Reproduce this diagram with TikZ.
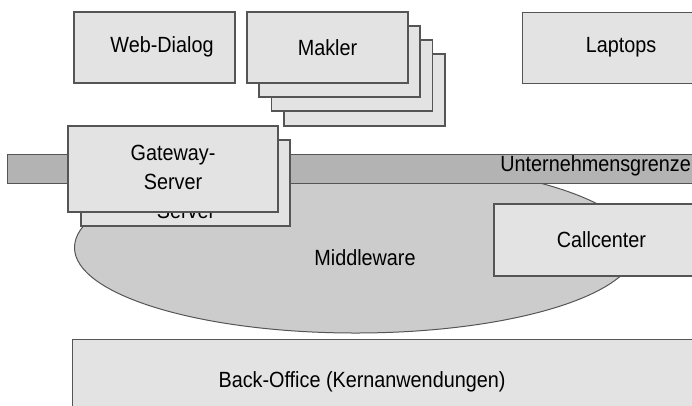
\documentclass[tikz,border=0pt]{standalone}
\usepackage{fontspec}
\setmainfont{Liberation Sans}[FakeStretch=0.9]
\usetikzlibrary{shapes.geometric}

\definecolor{boxfill}{HTML}{E3E3E3}
\definecolor{bandfill}{HTML}{B3B3B3}
\definecolor{mwfill}{HTML}{CCCCCC}
\definecolor{edge}{HTML}{555555}

\tikzset{
  every node/.style={font=\fontsize{22}{29}\selectfont, inner sep=0pt},
  panel/.style={draw=edge, line width=1.2pt, fill=boxfill, rectangle},
  plain/.style={align=center, text=black},
}

\begin{document}
\begin{tikzpicture}[x=1pt, y=-1pt]
  \useasboundingbox (0,0) rectangle (692,405);

  % middleware ellipse
  \node[ellipse, draw=edge, line width=1pt, fill=mwfill,
        minimum width=562pt, minimum height=171pt] (mw) at (355.5,247.5) {};
  \node[plain] (mwtext) at (365,258) {Middleware};

  % company boundary band
  \node[rectangle, draw=edge, line width=1.2pt, fill=bandfill,
        minimum width=700pt, minimum height=29pt, anchor=north west] (band) at (7,154) {};
  \node[plain, anchor=east] (bandtext) at (691,166) {Unternehmensgrenze};

  % gateway servers
  \node[panel, minimum width=209pt, minimum height=86pt] (gw2) at (185.5,183) {};
  \node[plain] (gw2text) at (186,196) {Gateway-\\Server};
  \node[panel, minimum width=210pt, minimum height=86pt] (gw1) at (173,169) {};
  \node[plain] (gw1text) at (173,167) {Gateway-\\Server};

  % call center
  \node[panel, minimum width=215pt, minimum height=72pt] (cc) at (601.5,240) {Callcenter};

  % broker stack
  \node[panel, minimum width=161pt, minimum height=72pt] (mk4) at (364.5,90) {};
  \node[panel, minimum width=161pt, minimum height=71pt] (mk3) at (352,75.5) {};
  \node[panel, minimum width=161pt, minimum height=71pt] (mk2) at (339.5,61.5) {};
  \node[panel, minimum width=161pt, minimum height=71pt] (mk1) at (327.5,47.5) {Makler};

  % top row
  \node[panel, minimum width=161pt, minimum height=71pt] (web) at (154.5,47.5) {};
  \node[plain] (webtext) at (162,47) {Web-Dialog};
  \node[panel, minimum width=198pt, minimum height=71pt, anchor=north west] (lap) at (522,12) {};
  \node[plain] (laptext) at (621,47) {Laptops};

  % back office
  \node[panel, minimum width=630pt, minimum height=100pt, anchor=north west] (bo) at (72,339) {};
  \node[plain] (botext) at (362,382) {Back-Office (Kernanwendungen)};
\end{tikzpicture}
\end{document}
